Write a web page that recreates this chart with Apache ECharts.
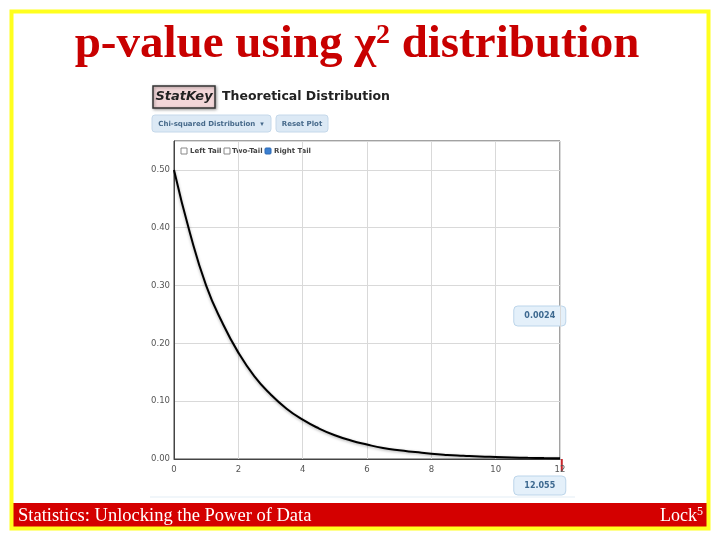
<!DOCTYPE html>
<html>
<head>
<meta charset="utf-8">
<script src="https://cdn.jsdelivr.net/npm/echarts@6/dist/echarts.min.js"></script>
<style>
  html, body { margin: 0; padding: 0; background: #fff; }
  #main { width: 720px; height: 540px; }
</style>
</head>
<body>
<div id="main"></div>
<script>
// chi-square (df = 2) density
var chiX = [0, 0.5, 1, 1.5, 2, 2.5, 3, 3.5, 4, 4.5, 5, 5.5, 6, 6.5, 7, 7.5, 8, 8.5, 9, 9.5, 10, 10.5, 11, 11.5, 12];
var density = [0.50, 0.39, 0.30, 0.236, 0.184, 0.143, 0.112, 0.087, 0.068, 0.053, 0.041, 0.032, 0.025, 0.019,
  0.015, 0.012, 0.009, 0.007, 0.0056, 0.0043, 0.0034, 0.0026, 0.002, 0.0016, 0.0012];
var statValue = 12.055;
var pValueText = "0.0024";
var statText = "12.055";
var tailOptions = ["Left Tail", "Two-Tail", "Right Tail"];

var curve = [];
for (var i = 0; i < chiX.length; i++) {
  curve.push([chiX[i], density[i]]);
}

var chart = echarts.init(document.getElementById("main"));

function box(x, y, w, h, fill, stroke, r) {
  return { type: "rect", shape: { x: x, y: y, width: w, height: h, r: r || 0 },
    style: { fill: fill, stroke: stroke, lineWidth: 1 }, silent: true };
}
function txt(x, y, s, font, color, align) {
  return { type: "text", x: x, y: y, silent: true,
    style: { text: s, font: font, fill: color, align: align || "left", verticalAlign: "middle" } };
}

var deco = [
  // slide frame
  { type: "rect", shape: { x: 11.5, y: 11.5, width: 697, height: 517 },
    style: { fill: "none", stroke: "#ffff1e", lineWidth: 4 }, silent: true, z: 1 },
  box(12, 503, 696, 25, "#d40000", null),
  txt(18, 516, "Statistics: Unlocking the Power of Data", "18.5px 'Liberation Serif'", "#fff"),
  { type: "text", x: 703, y: 516, silent: true,
    style: { text: "{a|Lock}{b|5}", align: "right", verticalAlign: "middle",
      rich: { a: { font: "18px 'Liberation Serif'", fill: "#fff" },
              b: { font: "12px 'Liberation Serif'", fill: "#fff", verticalAlign: "top", padding: [0, 0, 8, 0] } } } },
  // title
  { type: "text", x: 357, y: 45, silent: true,
    style: { text: "{a|p-value using χ}{b|2}{a| distribution}", align: "center", verticalAlign: "middle",
      rich: { a: { font: "bold 47px 'Liberation Serif'", fill: "#c80000" },
              b: { font: "bold 28px 'Liberation Serif'", fill: "#c80000", padding: [0, 0, 18, 0] } } } },
  // StatKey header
  { type: "rect", shape: { x: 153, y: 86, width: 62, height: 22 },
    style: { fill: "#f2d6d8", stroke: "#333", lineWidth: 1.5, shadowColor: "rgba(0,0,0,0.35)", shadowBlur: 3, shadowOffsetX: 1, shadowOffsetY: 1 }, silent: true },
  txt(184, 97, "StatKey", "italic bold 13px 'DejaVu Sans'", "#222", "center"),
  txt(222, 97, "Theoretical Distribution", "bold 12.5px 'DejaVu Sans'", "#222"),
  box(152, 115, 119, 17, "#dce9f5", "#c5d8ea", 3),
  txt(211, 124, "Chi-squared Distribution  ▾", "bold 7px 'DejaVu Sans'", "#46698a", "center"),
  box(276, 115, 52, 17, "#dce9f5", "#c5d8ea", 3),
  txt(302, 124, "Reset Plot", "bold 7px 'DejaVu Sans'", "#46698a", "center"),
  // checkbox row
  box(181, 148, 6, 6, "#fff", "#888"),
  txt(190, 151, tailOptions[0], "bold 7px 'DejaVu Sans'", "#444"),
  box(224, 148, 6, 6, "#fff", "#888"),
  txt(232, 151, tailOptions[1], "bold 7px 'DejaVu Sans'", "#444"),
  box(265, 148, 6, 6, "#3b7fd0", "#2d6ab5", 1),
  txt(274, 151, tailOptions[2], "bold 7px 'DejaVu Sans'", "#444"),
  // widget bottom rule
  { type: "line", shape: { x1: 150, y1: 497, x2: 575, y2: 497 }, style: { stroke: "#e3edf5", lineWidth: 1 }, silent: true }
];

chart.setOption({
  animation: false,
  backgroundColor: "#fff",
  grid: { left: 174, top: 141, width: 386, height: 318, show: true, borderColor: "#444", borderWidth: 1 },
  xAxis: {
    type: "value", min: 0, max: 12, interval: 2,
    axisLine: { lineStyle: { color: "#444" } },
    axisTick: { show: false },
    axisLabel: { color: "#555", fontSize: 8.5, margin: 6, fontFamily: "DejaVu Sans" },
    splitLine: { lineStyle: { color: "#d9d9d9" } }
  },
  yAxis: {
    type: "value", min: 0, max: 0.55, interval: 0.1,
    axisLine: { show: true, lineStyle: { color: "#444" } },
    axisTick: { show: false },
    axisLabel: { color: "#555", fontSize: 8.5, margin: 4, fontFamily: "DejaVu Sans",
      formatter: function (v) { return v > 0.5 ? "" : v.toFixed(2); } },
    splitLine: { lineStyle: { color: "#d9d9d9" } }
  },
  series: [{
    type: "line",
    data: curve,
    smooth: true,
    symbol: "none",
    lineStyle: { color: "#000", width: 2, shadowColor: "rgba(0,0,0,0.35)", shadowBlur: 3, shadowOffsetY: 1 }
  }],
  graphic: deco
});

// marker for the test statistic and its tail area
var p = chart.convertToPixel({ gridIndex: 0 }, [statValue, 0]);
var top = chart.convertToPixel({ gridIndex: 0 }, [statValue, 0.55]);
chart.setOption({
  graphic: deco.concat([
    { type: "line", shape: { x1: p[0], y1: top[1], x2: p[0], y2: p[1] }, style: { stroke: "#333", lineWidth: 1.5 }, silent: true },
    { type: "line", shape: { x1: p[0], y1: p[1], x2: p[0], y2: p[1] + 12 }, style: { stroke: "#c8262c", lineWidth: 2 }, silent: true },
    box(p[0] - 48, 306, 52, 20, "#e4f0fa", "#bcd5ea", 4),
    txt(p[0] - 22, 316, pValueText, "bold 8px 'DejaVu Sans'", "#3d6990", "center"),
    box(p[0] - 48, 476, 52, 19, "#e4f0fa", "#bcd5ea", 4),
    txt(p[0] - 22, 485.5, statText, "bold 8px 'DejaVu Sans'", "#3d6990", "center")
  ])
});
</script>
</body>
</html>
